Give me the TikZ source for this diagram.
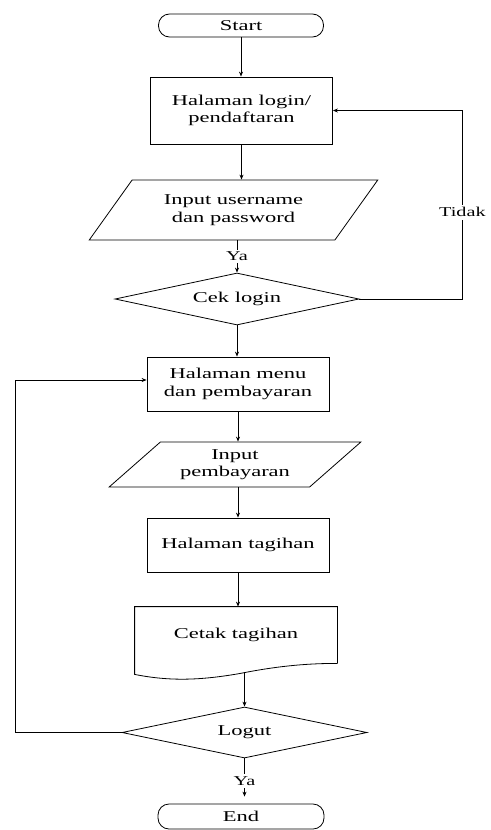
\documentclass[tikz,border=0pt]{standalone}
\usepackage{fontspec}
\setmainfont{Liberation Serif}[FakeStretch=1.5]
\usetikzlibrary{shapes.geometric,arrows.meta,calc,positioning}

\tikzset{
  terminal/.style={draw, rounded corners=11pt, minimum width=165pt, minimum height=23pt, inner sep=0pt},
  proses/.style={draw, minimum width=182pt, minimum height=54pt, align=center, inner sep=0pt},
  masukan/.style 2 args={draw, trapezium, trapezium left angle=#1, trapezium right angle=#2, trapezium stretches=true, align=center, inner sep=0pt},
  keputusan/.style={draw, diamond, aspect=4.7, minimum width=244pt, minimum height=52pt, inner sep=0pt},
  panah/.style={-{Stealth[length=5pt,width=4pt]}},
  ket/.style={fill=white, inner sep=2.5pt, font=\fontsize{13.5}{16}\selectfont}
}

\begin{document}
\begin{tikzpicture}[x=1pt,y=-1pt,line width=0.8pt,font=\fontsize{15}{17.5}\selectfont]
\useasboundingbox (0,0) rectangle (490,830);

%Terminal
\node[terminal] (start) at (241,25.5) {Start};
%Proses
\node[proses, minimum height=67pt] (login) at (241.5,110.5) {Halaman login/\\pendaftaran};
%Input
\node[masukan={46}{134}, minimum width=289pt, minimum height=60pt] (inuser) at (233.5,210) {Input username\\dan password};
%Decision
\node[keputusan] (cek) at (237,299) {Cek login};
\node[proses] (menu) at (238,384) {Halaman menu\\dan pembayaran};
\node[masukan={39}{141}, minimum width=252pt, minimum height=45pt] (inbayar) at (235,464.5) {Input\\pembayaran};
\node[proses] (tagihan) at (238,545) {Halaman tagihan};
%Document
\node[minimum width=202pt, minimum height=56pt, inner sep=0pt] (cetak) at (236,635) {Cetak tagihan};
\draw (cetak.south east) -- (cetak.north east) -- (cetak.north west) -- ([yshift=-11pt]cetak.south west)
  .. controls +(35,7) and +(-40,7) .. ([xshift=-97pt,yshift=-10pt]cetak.south east)
  .. controls +(40,-8) and +(-27,0) .. (cetak.south east);
\node[keputusan, minimum width=245pt, minimum height=51pt] (logut) at (244.5,732.5) {Logut};
\node[terminal, minimum width=166pt, minimum height=25pt] (end) at (241,816.5) {End};

\coordinate (sudut1) at ($(cek.east)+(103,0)$);
\coordinate (sudut2) at ($(logut.west)+(-106,0)$);
\coordinate (cetakbawah) at ($(logut.north |- cetak.south)+(0,9)$);

%Straight Lines
\draw[panah] (start.south) -- (start.south |- login.north);
\draw[panah] (login.south) -- (login.south |- inuser.north);
\draw[panah] (inuser.south -| cek.north) -- node[ket]{Ya} (cek.north);
\draw[panah] (cek.east) -- (sudut1) |- node[ket, pos=0.23]{Tidak} (login.east);
\draw[panah] (cek.south) -- (cek.south |- menu.north);
\draw[panah] (menu.south) -- (menu.south |- inbayar.north);
\draw[panah] (inbayar.south -| menu.south) -- (menu.south |- tagihan.north);
\draw[panah] (tagihan.south) -- (tagihan.south |- cetak.north);
\draw[panah] (cetakbawah) -- (logut.north);
\draw[panah] (logut.west) -- (sudut2) |- ([yshift=4pt]menu.west);
\draw[panah, shorten >=7pt] (logut.south) -- node[ket]{Ya} (logut.south |- end.north);

\end{tikzpicture}
\end{document}
